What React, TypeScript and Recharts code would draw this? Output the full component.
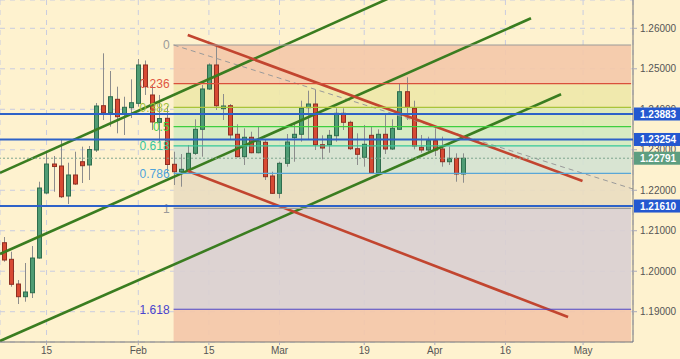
import React from 'react';
import { ComposedChart, Bar, XAxis, YAxis, CartesianGrid, ReferenceLine, ReferenceArea } from 'recharts';

// trading-day index (0 = Jan 15)
const dayIndex = [-6,-5,-4,-3,-2,-1,0,1,2,3,4,5,6,7,8,9,10,11,12,13,14,15,16,17,18,19,20,21,22,23,24,25,26,27,28,29,30,31,32,33,34,35,36,37,38,39,40,41,42,43,44,45,46,47,48,49,50,51,52,53,54,55,56,57,58,59];
const opens = [1.20704,1.20294,1.19684,1.19371,1.19469,1.20326,1.21932,1.22648,1.22599,1.21858,1.22377,1.22705,1.22624,1.22994,1.24088,1.23915,1.24246,1.23883,1.24039,1.24147,1.25094,1.24353,1.23678,1.23777,1.22641,1.22458,1.22500,1.22912,1.23505,1.24501,1.25094,1.24014,1.24088,1.23382,1.22829,1.23308,1.22927,1.23184,1.22352,1.21924,1.22665,1.23298,1.23382,1.24039,1.24130,1.23125,1.23125,1.23347,1.23900,1.23678,1.23026,1.22814,1.23357,1.22433,1.23382,1.23019,1.23505,1.24434,1.24024,1.23061,1.22994,1.23224,1.23019,1.22705,1.22789,1.22401];
const highs = [1.20845,1.20482,1.19783,1.20203,1.20623,1.22211,1.22920,1.22846,1.23241,1.22680,1.22952,1.23076,1.23093,1.24155,1.25382,1.24945,1.24558,1.24310,1.24740,1.25242,1.25205,1.24600,1.24353,1.24081,1.22952,1.22895,1.23118,1.23752,1.24600,1.25135,1.25580,1.24377,1.24130,1.23629,1.23530,1.23446,1.23570,1.23241,1.22458,1.22705,1.23389,1.23653,1.24212,1.24459,1.24476,1.23357,1.23488,1.24024,1.24024,1.23718,1.23406,1.23612,1.23570,1.23505,1.23859,1.23752,1.24624,1.24790,1.24212,1.23365,1.23323,1.23530,1.23323,1.23076,1.22912,1.22912];
const lows = [1.20235,1.19618,1.19190,1.19247,1.19338,1.20310,1.21907,1.21964,1.21808,1.21660,1.22130,1.22179,1.22253,1.22945,1.23735,1.23570,1.23406,1.23365,1.23784,1.24064,1.24353,1.23488,1.23192,1.22426,1.22130,1.22088,1.22458,1.22870,1.22829,1.24476,1.23982,1.23735,1.23241,1.22814,1.22624,1.22912,1.22912,1.22253,1.21910,1.21801,1.22582,1.22705,1.23199,1.23241,1.22994,1.22764,1.22927,1.23199,1.23488,1.22994,1.22624,1.22582,1.22420,1.22419,1.22895,1.22994,1.23488,1.23735,1.23011,1.22927,1.22952,1.22846,1.22582,1.22624,1.22211,1.22186];
const closes = [1.20277,1.19677,1.19371,1.19487,1.20326,1.22055,1.22648,1.22586,1.21840,1.22377,1.22154,1.22606,1.23006,1.24081,1.23915,1.24310,1.23817,1.24049,1.24162,1.25094,1.24558,1.23686,1.23772,1.22636,1.22458,1.22517,1.22912,1.23505,1.24501,1.25094,1.24088,1.24081,1.23365,1.22829,1.23308,1.22927,1.23216,1.22335,1.21924,1.22665,1.23192,1.23382,1.24024,1.24130,1.23125,1.23043,1.23357,1.23900,1.23678,1.23026,1.22888,1.23135,1.22433,1.23382,1.23019,1.23530,1.24434,1.24049,1.23093,1.22994,1.23224,1.22994,1.22705,1.22789,1.22401,1.22791];

const xTicks = [0, 13, 23, 33, 45, 55, 65, 76];
const xTickLabels = ['15', 'Feb', '15', 'Mar', '19', 'Apr', '16', 'May'];
const yTicks = [1.19, 1.2, 1.21, 1.22, 1.23, 1.24, 1.25, 1.26];
const xDomain = [-6.59, 83.07];
const yDomain = [1.18252, 1.26699];

// Fibonacci retracement
const fibLevels = [0, 0.236, 0.382, 0.5, 0.618, 0.786, 1, 1.618];
const fibLabels = ['0', '0.236', '0.382', '0.5', '0.618', '0.786', '1', '1.618'];
const fibHigh = 1.25588;
const fibLow = 1.21554;
const fibStartIdx = 18;
const fibEndIdx = 82.8;
const fibTrend = [{ x: 18, y: 1.25588 }, { x: 83.07, y: 1.22031 }];

// horizontal levels
const blueLevels = [1.23883, 1.23254, 1.2161];
const lastPrice = 1.22791;

// trend lines (index, price)
const greenLines = [
  [{ x: -6.59, y: 1.22428 }, { x: 50.0, y: 1.26859 }],
  [{ x: -6.59, y: 1.20425 }, { x: 68.62, y: 1.26247 }],
  [{ x: -6.59, y: 1.18276 }, { x: 72.88, y: 1.2437 }],
];
const redLines = [
  [{ x: 20.0, y: 1.25835 }, { x: 75.92, y: 1.22228 }],
  [{ x: 20.0, y: 1.22475 }, { x: 73.87, y: 1.18869 }],
];

// styles
const BG = '#FEF2CF';
const fibLineColors = ['#9a9a9a', '#d9503c', '#a9c43a', '#3fcf3f', '#35c79a', '#5aa6d6', '#9a9a9a', '#4a44cc'];
const fibLabelColors = ['#9a9a9a', '#e0553f', '#a3c23a', '#3fcf3f', '#35c79a', '#4ea3dc', '#9a9a9a', '#4a44cc'];
const fibBandColors = ['#F4C8A9', '#EEE8A8', '#DDEAB4', '#D3EAC1', '#D4E2D1', '#EADDC0', '#D9CFD2', '#F4C7A8'];

const data = dayIndex.map((i, k) => ({ i, open: opens[k], high: highs[k], low: lows[k], close: closes[k] }));
const fibPrice = (l: number) => fibHigh - l * (fibHigh - fibLow);

const Candle = (props: any) => {
  const { x, y, width, height, payload } = props;
  if (x == null || payload == null) return null;
  const { open, close, high, low } = payload;
  const cx = Math.round(x + width / 2) + 0.5;
  const k = height / (high - low);
  const yO = y + (high - open) * k;
  const yC = y + (high - close) * k;
  const up = close >= open;
  const top = Math.min(yO, yC);
  const h = Math.max(Math.abs(yC - yO), 1);
  return (
    <g>
      <line x1={cx} x2={cx} y1={y} y2={y + height} stroke="#8c8c8c" strokeWidth={1} />
      <rect x={cx - 2} y={top} width={4} height={h} fill={up ? '#4f9c74' : '#d84a33'} stroke={up ? '#2f6e4e' : '#8f2f22'} strokeWidth={1} />
    </g>
  );
};

const PriceTag = (props: any) => {
  const { viewBox, text, fill } = props;
  if (!viewBox) return null;
  const x = viewBox.x + viewBox.width;
  const y = viewBox.y;
  return (
    <g>
      <rect x={x + 1} y={y - 6.5} width={47} height={13} fill={fill} />
      <text x={x + 7} y={y} dy="0.35em" fill="#ffffff" fontSize={10} fontWeight="bold" fontFamily="Liberation Sans, Arial, sans-serif">{text}</text>
    </g>
  );
};

export default function App() {
  return (
    <div style={{ position: 'absolute', left: 0, top: 0, width: 680, height: 359, background: BG }}>
      <ComposedChart width={680} height={359} data={data} margin={{ top: 0, right: 0, bottom: 0, left: 0 }} style={{ fontFamily: 'Liberation Sans, Arial, sans-serif' }}>
        <CartesianGrid stroke="#c9cce0" strokeDasharray="5 5" />
        {fibLevels.map((l, k) => (
          <ReferenceArea key={'band' + k} x1={fibStartIdx} x2={fibEndIdx} y1={fibPrice(l)} y2={k < fibLevels.length - 1 ? fibPrice(fibLevels[k + 1]) : yDomain[0]} fill={fibBandColors[k]} fillOpacity={0.9} stroke="none" ifOverflow="hidden" />
        ))}
        <XAxis dataKey="i" type="number" domain={xDomain} allowDataOverflow ticks={xTicks} interval={0} tickFormatter={(v: number) => xTickLabels[xTicks.indexOf(v)] ?? ''} height={17} tick={{ fill: '#555', fontSize: 10 }} tickSize={3} tickMargin={2} axisLine={{ stroke: '#777' }} tickLine={{ stroke: '#aab' }} />
        <YAxis orientation="right" type="number" domain={yDomain} allowDataOverflow ticks={yTicks} interval={0} tickFormatter={(v: number) => v.toFixed(5)} width={47} tick={{ fill: '#555', fontSize: 10, textAnchor: 'start' }} tickSize={4} tickMargin={3} axisLine={{ stroke: '#777' }} tickLine={{ stroke: '#aab' }} />
        <Bar dataKey={(d: any) => [d.low, d.high]} barSize={5} shape={Candle} isAnimationActive={false} />
        {fibLevels.map((l, k) => (
          <ReferenceLine key={'fib' + k} segment={[{ x: fibStartIdx, y: fibPrice(l) }, { x: fibEndIdx, y: fibPrice(l) }]} stroke={fibLineColors[k]} strokeWidth={1.2} ifOverflow="visible" zIndex={2100}
            label={{ value: fibLabels[k], position: 'left', offset: 4, fill: fibLabelColors[k], fontSize: 12 }} />
        ))}
        <ReferenceLine segment={fibTrend} stroke="#9a9a9a" strokeDasharray="5 4" strokeWidth={1} ifOverflow="hidden" />
        <ReferenceLine y={lastPrice} stroke="#7fa58f" strokeDasharray="2 2" strokeWidth={1} zIndex={2200}
          label={(p: any) => <PriceTag viewBox={p.viewBox} text={lastPrice.toFixed(5)} fill="#5e9e80" />} />
        {blueLevels.map((v, k) => (
          <ReferenceLine key={'blue' + k} y={v} stroke="#2e62c8" strokeWidth={2} zIndex={2200}
            label={(p: any) => <PriceTag viewBox={p.viewBox} text={v.toFixed(5)} fill="#2458d0" />} />
        ))}
        {greenLines.map((s, k) => (
          <ReferenceLine key={'g' + k} segment={s} stroke="#3a7d20" strokeWidth={2.6} ifOverflow="hidden" />
        ))}
        {redLines.map((s, k) => (
          <ReferenceLine key={'r' + k} segment={s} stroke="#c2452f" strokeWidth={2.6} ifOverflow="hidden" />
        ))}
      </ComposedChart>
    </div>
  );
}
